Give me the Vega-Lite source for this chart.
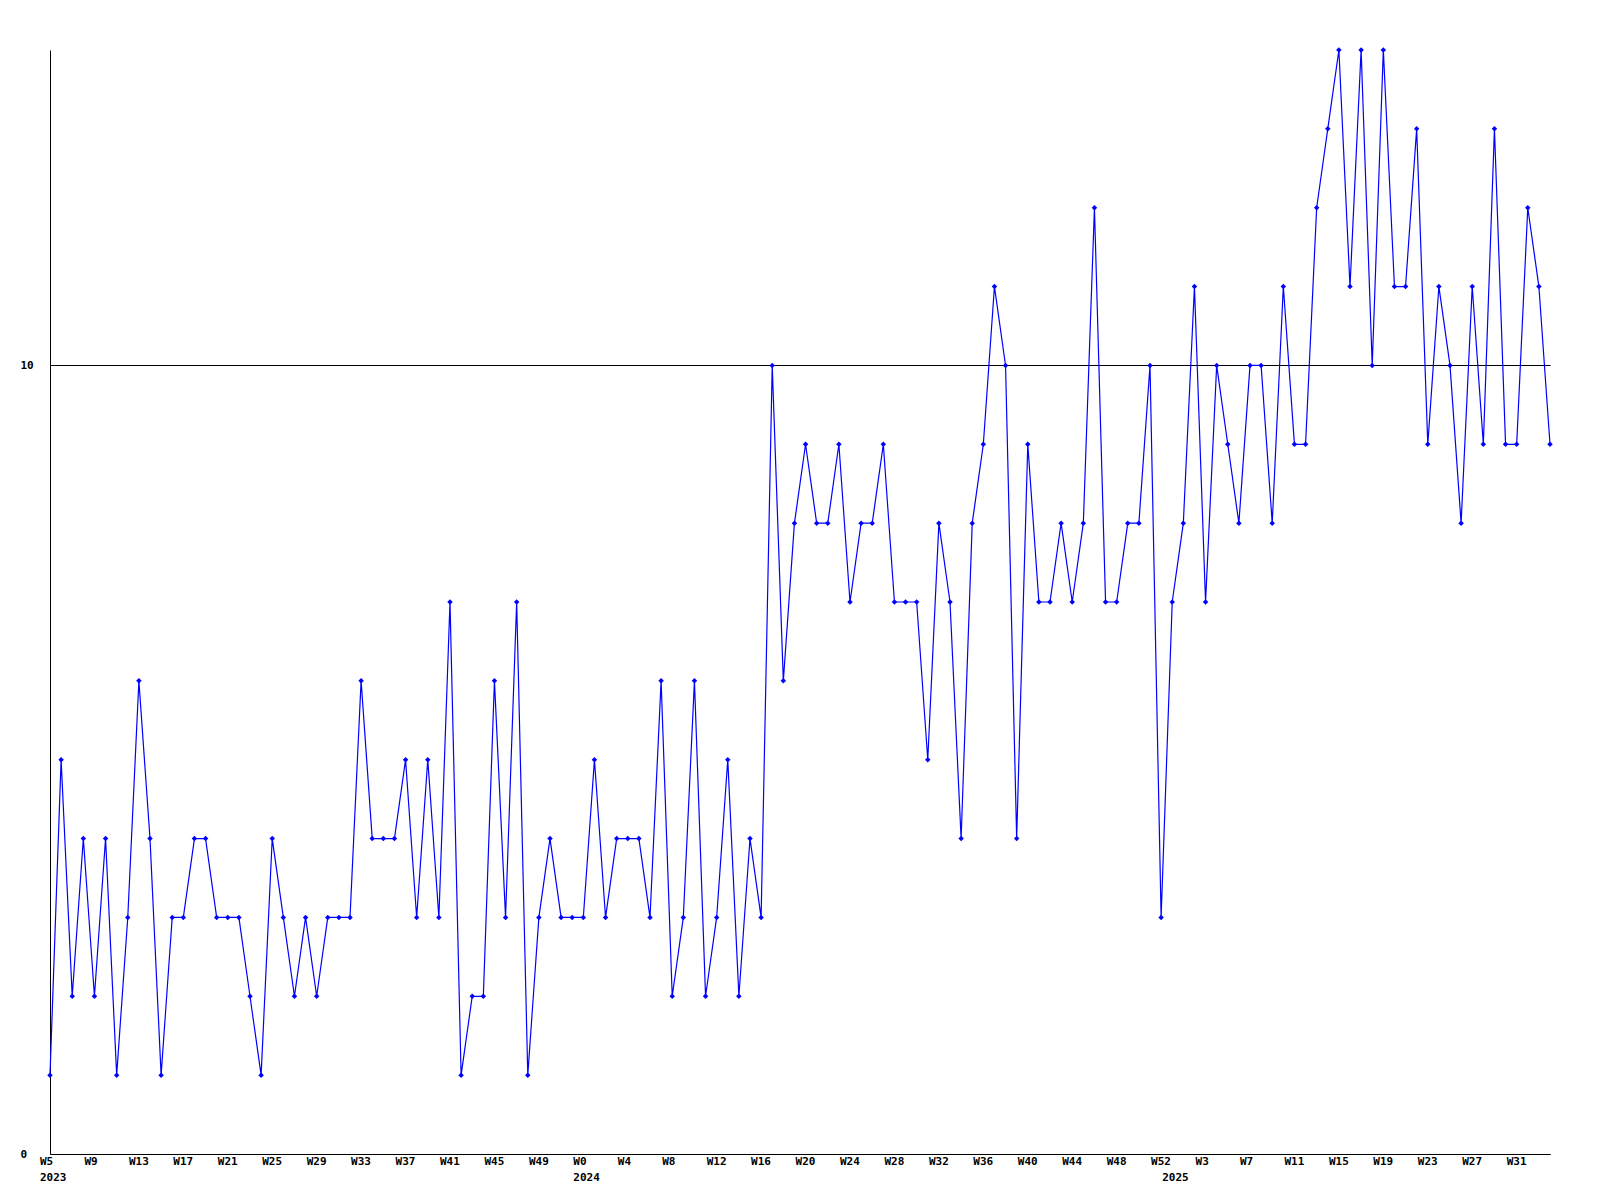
{
  "$schema": "https://vega.github.io/schema/vega-lite/v6.json",
  "width": 1500,
  "height": 1104,
  "autosize": {"type": "none"},
  "padding": {"left": 50, "top": 50, "right": 50, "bottom": 46},
  "background": "white",
  "config": {"view": {"stroke": null}},
  "data": {"values": [
    {"wk":"2023 W5","v":1},{"wk":"2023 W6","v":5},{"wk":"2023 W7","v":2},{"wk":"2023 W8","v":4},
    {"wk":"2023 W9","v":2},{"wk":"2023 W10","v":4},{"wk":"2023 W11","v":1},{"wk":"2023 W12","v":3},
    {"wk":"2023 W13","v":6},{"wk":"2023 W14","v":4},{"wk":"2023 W15","v":1},{"wk":"2023 W16","v":3},
    {"wk":"2023 W17","v":3},{"wk":"2023 W18","v":4},{"wk":"2023 W19","v":4},{"wk":"2023 W20","v":3},
    {"wk":"2023 W21","v":3},{"wk":"2023 W22","v":3},{"wk":"2023 W23","v":2},{"wk":"2023 W24","v":1},
    {"wk":"2023 W25","v":4},{"wk":"2023 W26","v":3},{"wk":"2023 W27","v":2},{"wk":"2023 W28","v":3},
    {"wk":"2023 W29","v":2},{"wk":"2023 W30","v":3},{"wk":"2023 W31","v":3},{"wk":"2023 W32","v":3},
    {"wk":"2023 W33","v":6},{"wk":"2023 W34","v":4},{"wk":"2023 W35","v":4},{"wk":"2023 W36","v":4},
    {"wk":"2023 W37","v":5},{"wk":"2023 W38","v":3},{"wk":"2023 W39","v":5},{"wk":"2023 W40","v":3},
    {"wk":"2023 W41","v":7},{"wk":"2023 W42","v":1},{"wk":"2023 W43","v":2},{"wk":"2023 W44","v":2},
    {"wk":"2023 W45","v":6},{"wk":"2023 W46","v":3},{"wk":"2023 W47","v":7},{"wk":"2023 W48","v":1},
    {"wk":"2023 W49","v":3},{"wk":"2023 W50","v":4},{"wk":"2023 W51","v":3},{"wk":"2023 W52","v":3},
    {"wk":"2024 W0","v":3},{"wk":"2024 W1","v":5},{"wk":"2024 W2","v":3},{"wk":"2024 W3","v":4},
    {"wk":"2024 W4","v":4},{"wk":"2024 W5","v":4},{"wk":"2024 W6","v":3},{"wk":"2024 W7","v":6},
    {"wk":"2024 W8","v":2},{"wk":"2024 W9","v":3},{"wk":"2024 W10","v":6},{"wk":"2024 W11","v":2},
    {"wk":"2024 W12","v":3},{"wk":"2024 W13","v":5},{"wk":"2024 W14","v":2},{"wk":"2024 W15","v":4},
    {"wk":"2024 W16","v":3},{"wk":"2024 W17","v":10},{"wk":"2024 W18","v":6},{"wk":"2024 W19","v":8},
    {"wk":"2024 W20","v":9},{"wk":"2024 W21","v":8},{"wk":"2024 W22","v":8},{"wk":"2024 W23","v":9},
    {"wk":"2024 W24","v":7},{"wk":"2024 W25","v":8},{"wk":"2024 W26","v":8},{"wk":"2024 W27","v":9},
    {"wk":"2024 W28","v":7},{"wk":"2024 W29","v":7},{"wk":"2024 W30","v":7},{"wk":"2024 W31","v":5},
    {"wk":"2024 W32","v":8},{"wk":"2024 W33","v":7},{"wk":"2024 W34","v":4},{"wk":"2024 W35","v":8},
    {"wk":"2024 W36","v":9},{"wk":"2024 W37","v":11},{"wk":"2024 W38","v":10},{"wk":"2024 W39","v":4},
    {"wk":"2024 W40","v":9},{"wk":"2024 W41","v":7},{"wk":"2024 W42","v":7},{"wk":"2024 W43","v":8},
    {"wk":"2024 W44","v":7},{"wk":"2024 W45","v":8},{"wk":"2024 W46","v":12},{"wk":"2024 W47","v":7},
    {"wk":"2024 W48","v":7},{"wk":"2024 W49","v":8},{"wk":"2024 W50","v":8},{"wk":"2024 W51","v":10},
    {"wk":"2024 W52","v":3},
    {"wk":"2025 W0","v":7},{"wk":"2025 W1","v":8},{"wk":"2025 W2","v":11},{"wk":"2025 W3","v":7},
    {"wk":"2025 W4","v":10},{"wk":"2025 W5","v":9},{"wk":"2025 W6","v":8},{"wk":"2025 W7","v":10},
    {"wk":"2025 W8","v":10},{"wk":"2025 W9","v":8},{"wk":"2025 W10","v":11},{"wk":"2025 W11","v":9},
    {"wk":"2025 W12","v":9},{"wk":"2025 W13","v":12},{"wk":"2025 W14","v":13},{"wk":"2025 W15","v":14},
    {"wk":"2025 W16","v":11},{"wk":"2025 W17","v":14},{"wk":"2025 W18","v":10},{"wk":"2025 W19","v":14},
    {"wk":"2025 W20","v":11},{"wk":"2025 W21","v":11},{"wk":"2025 W22","v":13},{"wk":"2025 W23","v":9},
    {"wk":"2025 W24","v":11},{"wk":"2025 W25","v":10},{"wk":"2025 W26","v":8},{"wk":"2025 W27","v":11},
    {"wk":"2025 W28","v":9},{"wk":"2025 W29","v":13},{"wk":"2025 W30","v":9},{"wk":"2025 W31","v":9},
    {"wk":"2025 W32","v":12},{"wk":"2025 W33","v":11},{"wk":"2025 W34","v":9}
  ]},
  "mark": {
    "type": "line",
    "color": "#0000ff",
    "strokeWidth": 1.2,
    "point": {"shape": "diamond", "filled": true, "size": 30, "color": "#0000ff"}
  },
  "encoding": {
    "x": {
      "field": "wk",
      "type": "ordinal",
      "sort": null,
      "scale": {"type": "point", "padding": 0},
      "axis": {
        "title": null,
        "values": ["2023 W5","2023 W9","2023 W13","2023 W17","2023 W21","2023 W25","2023 W29","2023 W33","2023 W37","2023 W41","2023 W45","2023 W49",
                   "2024 W0","2024 W4","2024 W8","2024 W12","2024 W16","2024 W20","2024 W24","2024 W28","2024 W32","2024 W36","2024 W40","2024 W44","2024 W48","2024 W52",
                   "2025 W0","2025 W3","2025 W7","2025 W11","2025 W15","2025 W19","2025 W23","2025 W27","2025 W31"],
        "labelExpr": "datum.value == '2023 W5' || datum.value == '2024 W0' ? [split(datum.value, ' ')[1], split(datum.value, ' ')[0]] : (datum.value == '2025 W0' ? [' ', '2025'] : split(datum.value, ' ')[1])",
        "labelAngle": 0,
        "labelAlign": "left",
        "labelBaseline": "top",
        "labelOffset": -10.5,
        "labelPadding": 1,
        "labelLineHeight": 16,
        "labelOverlap": false,
        "labelFont": "DejaVu Sans Mono",
        "labelFontWeight": "bold",
        "labelFontSize": 11,
        "labelColor": "black",
        "ticks": false,
        "tickSize": 0,
        "domainColor": "black",
        "domainWidth": 1,
        "grid": false
      }
    },
    "y": {
      "field": "v",
      "type": "quantitative",
      "scale": {"domain": [0, 14], "nice": false, "zero": true},
      "axis": {
        "title": null,
        "values": [0, 10],
        "labelAlign": "left",
        "labelBaseline": "middle",
        "labelPadding": 30,
        "labelFont": "DejaVu Sans Mono",
        "labelFontWeight": "bold",
        "labelFontSize": 11,
        "labelColor": "black",
        "ticks": false,
        "tickSize": 0,
        "domainColor": "black",
        "domainWidth": 1,
        "grid": true,
        "gridColor": "black",
        "gridOpacity": 1,
        "gridWidth": 1
      }
    }
  }
}
